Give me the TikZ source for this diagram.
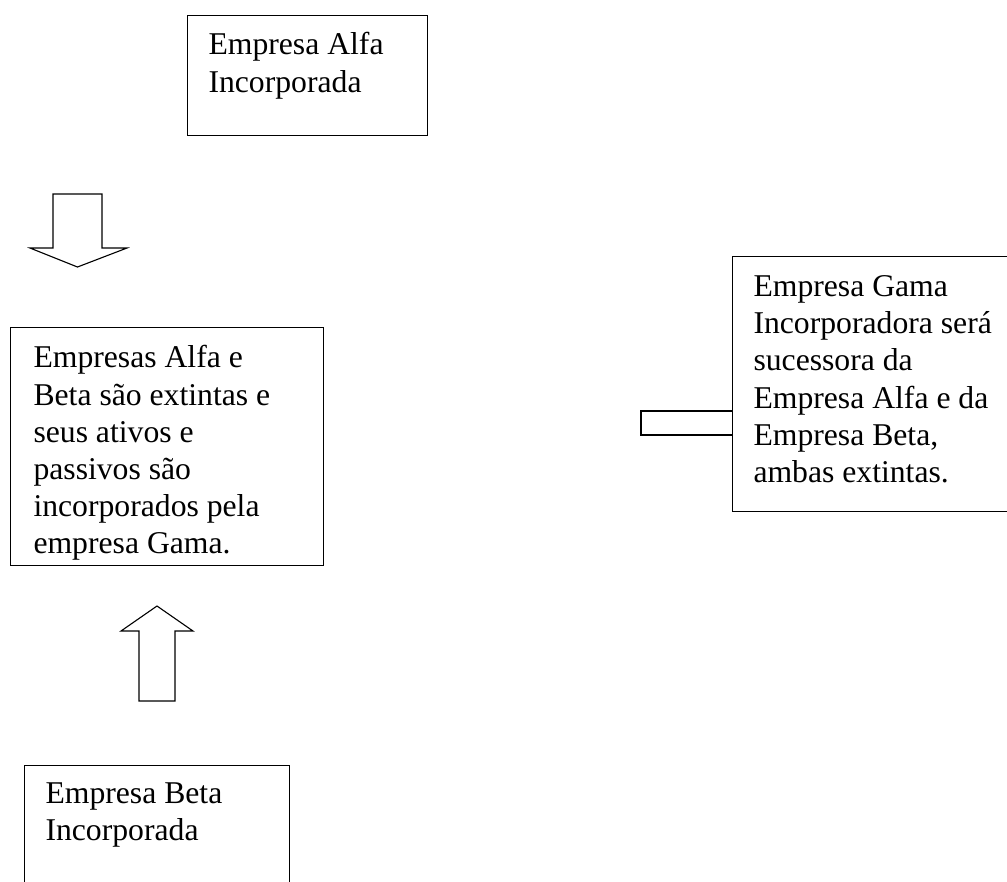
\documentclass[tikz,border=0pt]{standalone}
\usepackage{fontspec}
\setmainfont{Liberation Serif}
\usetikzlibrary{positioning}
\newlength\pxu
\setlength\pxu{0.3788pt}

\begin{document}
\begin{tikzpicture}[x=\pxu,y=-\pxu,
  caixa/.style={draw,line width=0.42pt,fill=white,inner sep=0pt,anchor=north west},
  texto/.style={anchor=north west,inner sep=0pt,align=left,font=\fontsize{12}{14.1}\selectfont},
  seta/.style={draw,line width=0.42pt,fill=white,line join=miter}]
\useasboundingbox (0,0) rectangle (1007,881);
\clip (0,0) rectangle (1007,881);
% setas
\draw[seta] (53,194)--(102,194)--(102,248)--(127,248)--(77.5,267)--(30,248)--(53,248)--cycle;
\draw[seta] (139,701)--(175,701)--(175,631)--(193,631)--(157,606)--(121,631)--(139,631)--cycle;
\draw[seta] (732,411) -| (641,435) -- (732,435);
% caixas
\node[caixa,minimum width=240*\pxu,minimum height=120*\pxu] (alfa) at (187,15){};
\node[caixa,minimum width=313*\pxu,minimum height=238*\pxu] (fusao) at (10,327){};
\node[caixa,minimum width=265*\pxu,minimum height=140*\pxu] (beta) at (24,765){};
\node[caixa,minimum width=300*\pxu,minimum height=255*\pxu] (gama) at (732,256){};
\node[texto] (alfatxt) at (208,32){Empresa Alfa\\Incorporada};
\node[texto] (fusaotxt) at (33,345){Empresas Alfa e\\Beta são extintas e\\seus ativos e\\passivos são\\incorporados pela\\empresa Gama.};
\node[texto] (betatxt) at (45,782){Empresa Beta\\Incorporada};
\node[texto] (gamatxt) at (753,275){Empresa Gama\\Incorporadora será\\sucessora da\\Empresa Alfa e da\\Empresa Beta,\\ambas extintas.};
\end{tikzpicture}
\end{document}
